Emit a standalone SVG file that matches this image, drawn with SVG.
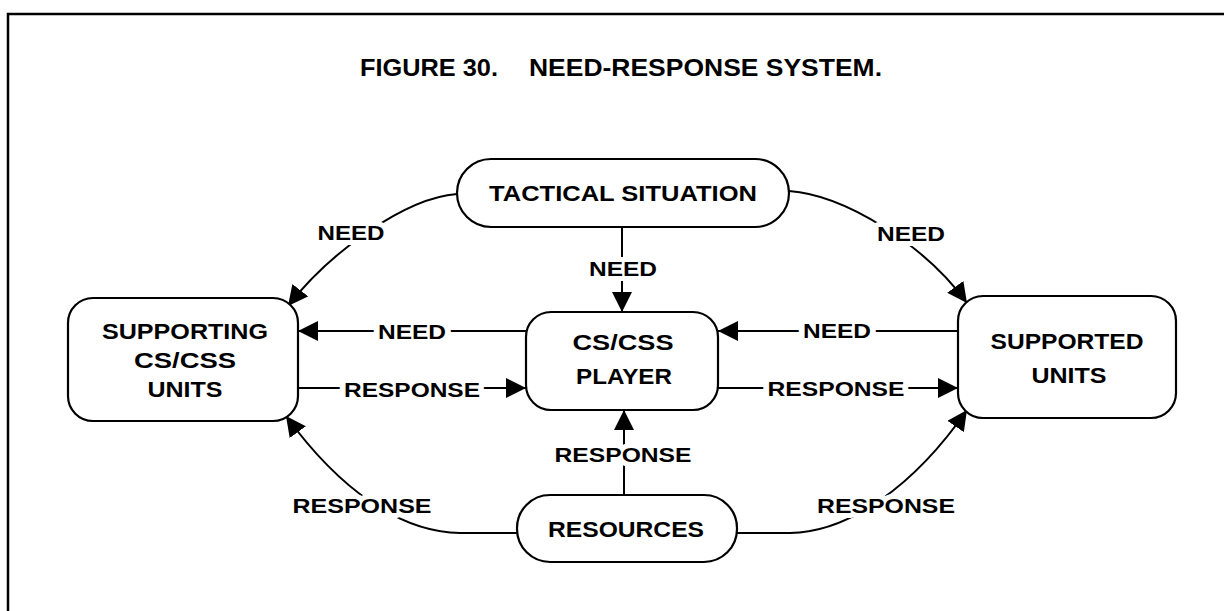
<svg xmlns="http://www.w3.org/2000/svg" width="1224" height="611" viewBox="0 0 1224 611">
<style>
.frame{fill:none;stroke:#000;stroke-width:2.5}
.node{fill:#fff;stroke:#000;stroke-width:2.2}
.nt{font-family:"Liberation Sans",Arial,sans-serif;font-weight:bold;font-size:22px;fill:#000;text-anchor:middle}
.title{font-family:"Liberation Sans",Arial,sans-serif;font-weight:bold;font-size:23px;fill:#000}
.edge{fill:none;stroke:#000;stroke-width:2}
.lbl{font-family:"Liberation Sans",Arial,sans-serif;font-weight:bold;font-size:21px;fill:#000;text-anchor:middle;stroke:#fff;stroke-width:10;paint-order:stroke;stroke-linejoin:round}
</style>
<defs>
<marker id="arr" viewBox="0 0 20 20" refX="20" refY="10" markerWidth="20" markerHeight="20" markerUnits="userSpaceOnUse" orient="auto">
<path d="M0,0 L20,10 L0,20 Z" fill="#000"/>
</marker>
</defs>
<rect width="1224" height="611" fill="#fff"/>
<path class="frame" d="M8,611 L8,14 L1224,14"/>
<text class="title" x="360" y="76" textLength="138" lengthAdjust="spacingAndGlyphs">FIGURE 30.</text>
<text class="title" x="529" y="76" textLength="353" lengthAdjust="spacingAndGlyphs">NEED-RESPONSE SYSTEM.</text>

<g id="connectors">
<path class="edge" d="M457,194 C405,198 330,252 288,306" marker-end="url(#arr)"/>
<path class="edge" d="M789,191 C845,195 925,245 967,303" marker-end="url(#arr)"/>
<path class="edge" d="M622,227 L622,312" marker-end="url(#arr)"/>
<path class="edge" d="M526,331 L298,331" marker-end="url(#arr)"/>
<path class="edge" d="M958,331 L718,331" marker-end="url(#arr)"/>
<path class="edge" d="M298,388 L526,388" marker-end="url(#arr)"/>
<path class="edge" d="M718,388 L958,388" marker-end="url(#arr)"/>
<path class="edge" d="M624,495 L624,410" marker-end="url(#arr)"/>
<path class="edge" d="M517,533 L460,533 C400,532 340,490 286,416" marker-end="url(#arr)"/>
<path class="edge" d="M737,533 L790,533 C850,532 915,485 967,410" marker-end="url(#arr)"/>
<text class="lbl" x="351" y="240" textLength="67" lengthAdjust="spacingAndGlyphs">NEED</text>
<text class="lbl" x="911" y="241" textLength="68" lengthAdjust="spacingAndGlyphs">NEED</text>
<text class="lbl" x="623" y="276" textLength="68" lengthAdjust="spacingAndGlyphs">NEED</text>
<text class="lbl" x="412" y="339" textLength="68" lengthAdjust="spacingAndGlyphs">NEED</text>
<text class="lbl" x="837" y="338" textLength="68" lengthAdjust="spacingAndGlyphs">NEED</text>
<text class="lbl" x="412" y="397" textLength="136" lengthAdjust="spacingAndGlyphs">RESPONSE</text>
<text class="lbl" x="836" y="396" textLength="137" lengthAdjust="spacingAndGlyphs">RESPONSE</text>
<text class="lbl" x="623" y="462" textLength="137" lengthAdjust="spacingAndGlyphs">RESPONSE</text>
<text class="lbl" x="362" y="513" textLength="139" lengthAdjust="spacingAndGlyphs">RESPONSE</text>
<text class="lbl" x="886" y="513" textLength="138" lengthAdjust="spacingAndGlyphs">RESPONSE</text>
</g>

<g id="tactical">
<rect class="node" x="457" y="159" width="332" height="68" rx="34"/>
<text class="nt" x="623" y="201" font-size="23" textLength="268" lengthAdjust="spacingAndGlyphs">TACTICAL SITUATION</text>
</g>
<g id="supporting">
<rect class="node" x="68" y="298" width="230" height="123" rx="25"/>
<text class="nt" x="185" y="339" textLength="166" lengthAdjust="spacingAndGlyphs">SUPPORTING</text>
<text class="nt" x="185" y="368" textLength="102" lengthAdjust="spacingAndGlyphs">CS/CSS</text>
<text class="nt" x="185" y="397" textLength="75" lengthAdjust="spacingAndGlyphs">UNITS</text>
</g>
<g id="player">
<rect class="node" x="526" y="312" width="192" height="98" rx="25"/>
<text class="nt" x="623" y="350" textLength="101" lengthAdjust="spacingAndGlyphs">CS/CSS</text>
<text class="nt" x="624" y="384" textLength="96" lengthAdjust="spacingAndGlyphs">PLAYER</text>
</g>
<g id="supported">
<rect class="node" x="958" y="296" width="218" height="122" rx="25"/>
<text class="nt" x="1067" y="349" textLength="153" lengthAdjust="spacingAndGlyphs">SUPPORTED</text>
<text class="nt" x="1069" y="383" textLength="75" lengthAdjust="spacingAndGlyphs">UNITS</text>
</g>
<g id="resources">
<rect class="node" x="517" y="495" width="220" height="67" rx="33"/>
<text class="nt" x="626" y="537" textLength="156" lengthAdjust="spacingAndGlyphs">RESOURCES</text>
</g>
</svg>
